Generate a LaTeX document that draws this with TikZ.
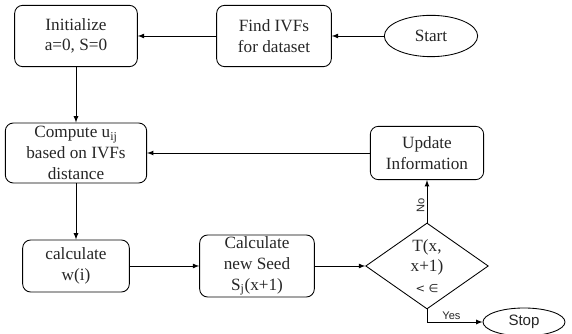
\documentclass[tikz,border=0pt]{standalone}
\usepackage{fontspec}
\setmainfont{Liberation Serif}
\newfontfamily\liberationsans{Liberation Sans}
\newfontfamily\dejavusans{DejaVu Sans}
\usetikzlibrary{positioning,shapes.geometric}
\tikzstyle{block} = [draw, rectangle, rounded corners=6pt, align=center, inner sep=1pt, font=\fontsize{12.9}{15.5}\selectfont]
\tikzstyle{terminal} = [draw, ellipse, inner sep=0pt]
\tikzstyle{decision} = [draw, diamond, align=center, inner sep=0pt, font=\fontsize{12.9}{15.5}\selectfont]
\tikzstyle{input} = [coordinate]
\tikzstyle{branch} = [font=\liberationsans\fontsize{8.3}{10}\selectfont, inner sep=1.5pt]

\begin{document}
\begin{tikzpicture}[auto, node distance=84.75pt, >=latex, line width=0.65pt, text=black!85]
        \useasboundingbox (-57pt,27pt) rectangle (372pt,-223.5pt);

        \node [block, minimum width=92pt, minimum height=46pt] (init) {Initialize\\a=0, S=0};
        \node [block, right of=init, node distance=148.5pt, minimum width=86pt, minimum height=46pt] (find) {Find IVFs\\for dataset};
        \node [terminal, right of=find, node distance=117.75pt, minimum width=70pt, minimum height=31pt, font=\fontsize{12.9}{15.5}\selectfont] (start) {Start};

        \node [block, below of=init, node distance=87.75pt, minimum width=106pt, minimum height=45pt] (compute) {Compute u\textsubscript{ij}\\based on IVFs\\distance};
        \node [block, below of=compute, minimum width=80pt, minimum height=39pt] (weight) {calculate\\w(i)};
        \node [block, right of=weight, node distance=135.75pt, minimum width=86pt, minimum height=46.5pt] (seed) {Calculate\\new Seed\\S\textsubscript{j}(x+1)};
        \node [decision, right of=seed, node distance=127.5pt, minimum width=92pt, minimum height=62pt] (test) {T(x,\\x+1)\\{\dejavusans\fontsize{8.5}{10}\selectfont < ∈}};
        \node [block, above of=test, minimum width=85pt, minimum height=40pt] (update) {Update\\Information};

        \node [input, below of=test, node distance=42pt] (yes) {};
        \node [terminal, right of=yes, node distance=72.75pt, minimum width=61.5pt, minimum height=21pt, font=\liberationsans\fontsize{11.3}{13}\selectfont] (stop) {Stop};

        \draw [->] (start) -- (find);
        \draw [->] (find) -- (init);
        \draw [->] (init) -- (compute);
        \draw [->] (compute) -- (weight);
        \draw [->] (weight) -- (seed);
        \draw [->] (seed) -- (test);
        \draw [->] (test) -- node [branch, rotate=90, anchor=south, pos=0.4] {No} (update);
        \draw [->] (update) -- (compute);
        \draw [->] (test) |- node [branch, pos=0.72, above] {Yes} (stop);
\end{tikzpicture}
\end{document}
